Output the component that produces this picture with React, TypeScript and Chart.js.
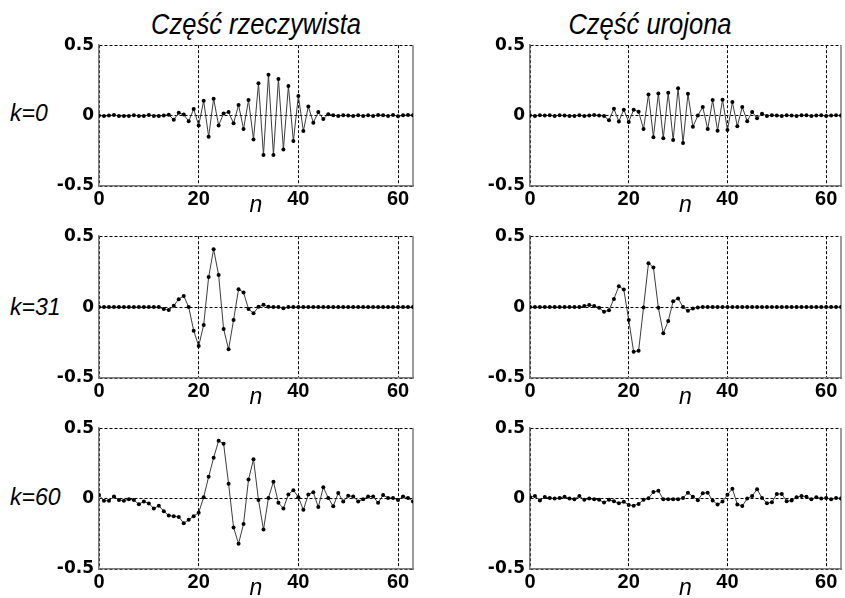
import React, { useEffect, useRef } from "react";
import { Chart, registerables } from "chart.js";

Chart.register(...registerables);

// sample index n = 0..63
const nIndex: number[] = Array.from({ length: 64 }, (_, i) => i);
const xTickValues = [0, 20, 40, 60];
const yTickValues = [-0.5, 0, 0.5];

const colTitles = ["Część rzeczywista", "Część urojona"];
const rowLabels = ["k=0", "k=31", "k=60"];

// k = 0, real part
const re0 = [
  0, -0.003, 0, 0.004, -0.002, -0.002, -0.002, 0.003, -0.002, -0.002,
  0.005, -0.002, -0.002, 0.001, 0.006, -0.03, 0.02, 0.007, -0.04, 0.047,
  -0.07, 0.105, -0.15, 0.12, -0.07, 0.015, 0.025, -0.055, 0.075, -0.095,
  0.11, -0.17, 0.23, -0.28, 0.29, -0.28, 0.26, -0.24, 0.21, -0.18,
  0.14, -0.11, 0.065, -0.05, 0.025, -0.025, 0.01, 0.003, -0.002, 0.002,
  0, -0.003, 0.003, -0.002, 0.002, -0.003, 0.004, 0.002, -0.002, 0.004,
  -0.004, 0.003, 0.004, 0.003,
];
// k = 0, imaginary part
const im0 = [
  0.002, -0.003, 0.002, 0, 0.002, -0.002, 0.002, 0, -0.002, -0.002,
  0.003, -0.002, 0, 0.004, 0.001, -0.003, -0.033, 0.049, -0.042, 0.042,
  -0.045, 0.042, 0.028, -0.096, 0.15, -0.153, 0.157, -0.16, 0.162, -0.174,
  0.195, -0.195, 0.155, -0.08, 0, 0.061, -0.096, 0.11, -0.108, 0.113,
  -0.103, 0.096, -0.075, 0.061, -0.04, 0.026, -0.019, 0.014, -0.002, 0.003,
  0, -0.002, 0.002, 0, -0.002, 0.002, 0.002, -0.002, 0, 0.002,
  -0.002, 0.001, 0.002, 0,
];
// k = 31, real part
const re31 = [
  0, 0, 0, 0, 0, 0, 0, 0, 0, 0,
  0, 0, 0, -0.014, -0.021, 0.009, 0.056, 0.079, 0, -0.166,
  -0.275, -0.126, 0.212, 0.408, 0.226, -0.154, -0.298, -0.091, 0.126, 0.103,
  -0.014, -0.044, 0.002, 0.016, 0.002, 0, 0, -0.008, 0, 0,
  0, 0, 0, 0, 0, 0, 0, 0, 0, 0,
  0, 0, 0, 0, 0, 0, 0, 0, 0, 0,
  0, 0, 0, 0,
];
// k = 31, imaginary part
const im31 = [
  0, 0, 0, 0, 0, 0, 0, 0, 0, 0,
  0, 0.007, 0.014, 0.007, -0.005, -0.033, -0.023, 0.058, 0.147, 0.124,
  -0.091, -0.315, -0.308, -0.002, 0.31, 0.28, -0.005, -0.184, -0.098, 0.042,
  0.061, 0, -0.026, -0.009, -0.002, 0, 0, 0, 0, 0,
  0, 0, 0, 0, 0, 0, 0, 0, 0, 0,
  0, 0, 0, 0, 0, 0, 0, 0, 0, 0,
  0, 0, 0, 0,
];
// k = 60, real part
const re60 = [
  0.025, -0.015, -0.015, 0.015, -0.01, -0.015, -0.005, -0.01, -0.04, -0.02,
  -0.035, -0.07, -0.05, -0.09, -0.12, -0.125, -0.13, -0.175, -0.15, -0.125,
  -0.1, 0.01, 0.155, 0.29, 0.41, 0.39, 0.105, -0.205, -0.32, -0.18,
  0.135, 0.28, -0.01, -0.22, 0.005, 0.12, -0.03, -0.07, 0.03, 0.06,
  0.01, -0.08, 0.03, 0.045, -0.06, 0.08, 0.005, -0.055, 0.04, -0.02,
  0.02, 0.015, -0.02, -0.005, 0.015, 0.015, -0.03, 0.025, 0.005, 0.005,
  -0.01, 0.015, 0.005, -0.02,
];
// k = 60, imaginary part
const im60 = [
  0.01, 0.019, -0.014, 0.012, 0.005, 0, 0.005, 0.014, 0, -0.005,
  0.019, -0.009, 0, -0.005, -0.009, -0.028, -0.009, -0.019, -0.033, -0.023,
  -0.045, -0.05, -0.038, -0.009, 0.002, 0.047, 0.056, -0.005, -0.005, -0.005,
  -0.005, 0.005, 0.042, 0.014, -0.012, 0.038, 0.042, -0.014, -0.042, -0.021,
  0.028, 0.07, -0.042, -0.052, 0, 0.019, 0.066, 0.005, -0.033, -0.026,
  0.033, 0.033, -0.019, -0.014, 0.009, 0.019, 0.014, -0.005, 0.01, 0,
  0.005, -0.005, 0.005, 0,
];

const series = [
  [re0, im0],
  [re31, im31],
  [re60, im60],
];

const SANS = "'Liberation Sans', Arial, sans-serif";
const WIDE = "'DejaVu Sans', 'Liberation Sans', sans-serif";

const frameRight = {
  id: "frameRight",
  beforeDatasetsDraw(chart: any) {
    const { ctx, chartArea } = chart;
    ctx.save();
    ctx.strokeStyle = "#7a7a7a";
    ctx.lineWidth = 1.5;
    ctx.beginPath();
    ctx.moveTo(chartArea.right, chartArea.top);
    ctx.lineTo(chartArea.right, chartArea.bottom + 1);
    ctx.stroke();
    ctx.restore();
  },
};

type PanelProps = {
  values: number[];
  left: number;
  top: number;
  width: number;
  height: number;
  axisW: number;
  padRight: number;
};

const X_AXIS_H = 36;

function Panel({ values, left, top, width, height, axisW, padRight }: PanelProps) {
  const ref = useRef<HTMLCanvasElement | null>(null);
  useEffect(() => {
    if (!ref.current) return;
    const chart = new Chart(ref.current, {
      type: "line",
      data: {
        datasets: [
          {
            data: values.map((v, i) => ({ x: nIndex[i], y: v })),
            borderColor: "#3c3c3c",
            borderWidth: 1,
            pointRadius: 2,
            pointBackgroundColor: "#000",
            pointBorderWidth: 0,
            tension: 0,
          },
        ],
      },
      options: {
        responsive: false,
        animation: false,
        devicePixelRatio: 1,
        layout: { padding: { top: 14, right: padRight, left: 0, bottom: 0 } },
        plugins: { legend: { display: false }, tooltip: { enabled: false }, title: { display: false } },
        scales: {
          x: {
            type: "linear",
            min: 0,
            max: 63,
            afterBuildTicks: (s: any) => {
              s.ticks = xTickValues.map((v) => ({ value: v }));
            },
            afterFit: (s: any) => {
              s.height = X_AXIS_H;
            },
            ticks: {
              color: "#000",
              padding: 3,
              maxRotation: 0,
              autoSkip: false,
              font: { family: SANS, size: 20, weight: "bold", lineHeight: 1 },
              callback: (v: any) => String(v),
            },
            grid: { color: "#000", lineWidth: 1, drawTicks: false },
            border: { color: "#7a7a7a", width: 1.5, dash: [3, 2] },
            title: {
              display: true,
              text: "n",
              color: "#000",
              font: { family: SANS, size: 23, style: "italic" },
              padding: { top: 0, bottom: 3 },
            },
          },
          y: {
            min: -0.5,
            max: 0.5,
            afterBuildTicks: (s: any) => {
              s.ticks = yTickValues.map((v) => ({ value: v }));
            },
            afterFit: (s: any) => {
              s.width = axisW;
            },
            ticks: {
              color: "#000",
              padding: 5,
              font: { family: WIDE, size: 17, weight: "bold" },
              callback: (v: any) => String(v),
            },
            grid: { color: "#000", lineWidth: 1, drawTicks: false },
            border: { color: "#7a7a7a", width: 1.5, dash: [3, 2] },
          },
        },
      },
      plugins: [frameRight],
    } as any);
    return () => chart.destroy();
  }, [values, axisW, padRight]);
  return (
    <canvas
      ref={ref}
      width={width}
      height={height}
      style={{ position: "absolute", left, top, width, height }}
    />
  );
}

const rowAreaTops = [44, 235, 427];
const rowAreaHeights = [142, 143, 142];
const colLayouts = [
  { left: 0, width: 430, axisW: 99, padRight: 17 },
  { left: 430, width: 415, axisW: 100, padRight: 3 },
];
const titleCenters = [256, 650];
const rowLabelCenters = [113, 307, 497];

export default function App() {
  return (
    <div
      style={{
        position: "absolute",
        left: 0,
        top: 0,
        width: 845,
        height: 598,
        overflow: "hidden",
        background: "#fff",
      }}
    >
      {colTitles.map((t, c) => (
        <div
          key={t}
          style={{
            position: "absolute",
            left: titleCenters[c] - 150,
            width: 300,
            top: 10,
            textAlign: "center",
            fontFamily: SANS,
            fontStyle: "italic",
            fontSize: 29,
            lineHeight: "29px",
            color: "#000",
            transform: "scaleX(0.88)",
            transformOrigin: "50% 50%",
          }}
        >
          {t}
        </div>
      ))}
      {rowLabels.map((t, r) => (
        <div
          key={t}
          style={{
            position: "absolute",
            left: 10,
            top: rowLabelCenters[r] - 11,
            fontFamily: SANS,
            fontStyle: "italic",
            fontSize: 23,
            lineHeight: "23px",
            color: "#000",
          }}
        >
          {t}
        </div>
      ))}
      {series.map((row, r) =>
        row.map((vals, c) => {
          const L = colLayouts[c];
          const top = rowAreaTops[r] - 14;
          const height = 14 + rowAreaHeights[r] + X_AXIS_H;
          return (
            <Panel
              key={`${r}-${c}`}
              values={vals}
              left={L.left}
              top={top}
              width={L.width}
              height={height}
              axisW={L.axisW}
              padRight={L.padRight}
            />
          );
        })
      )}
    </div>
  );
}
